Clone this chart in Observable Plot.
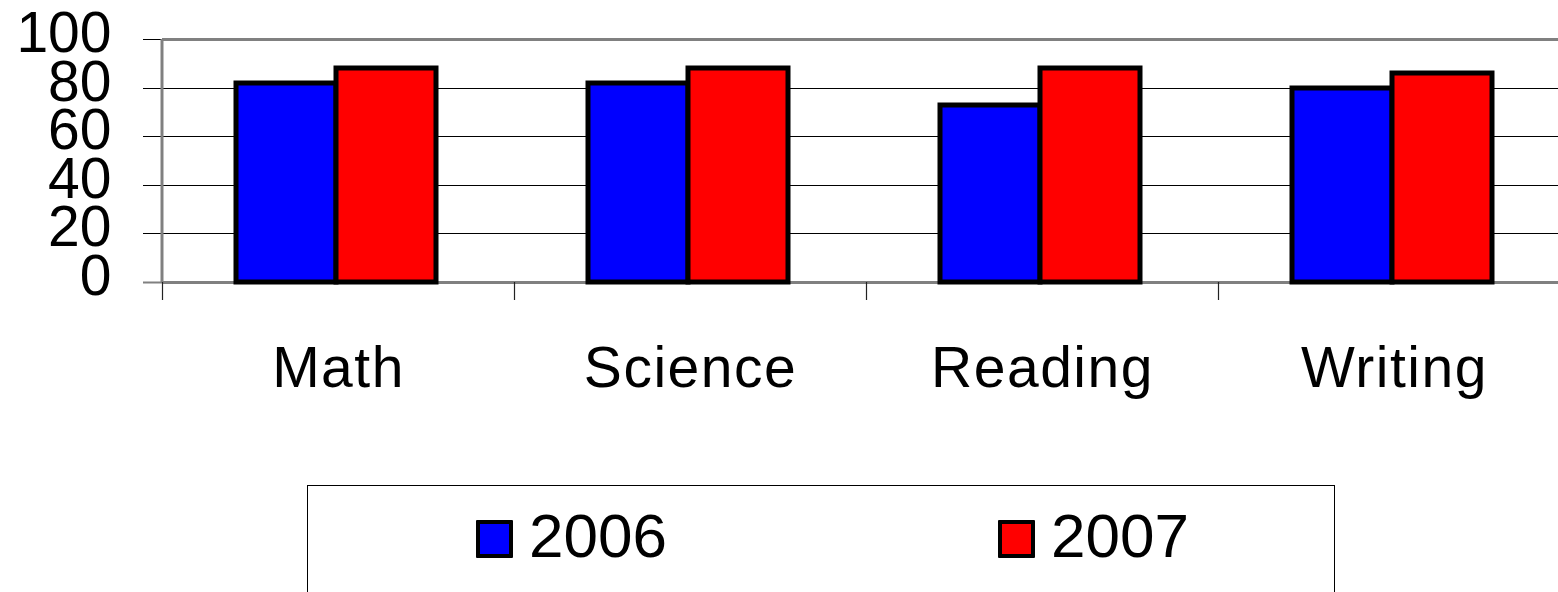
<!DOCTYPE html>
<html>
<head>
<meta charset="utf-8">
<script src="https://cdn.jsdelivr.net/npm/d3@7"></script>
<script src="https://cdn.jsdelivr.net/npm/@observablehq/plot@0.6"></script>
<style>
  html, body { margin: 0; padding: 0; background: #fff; overflow: hidden; width: 1558px; height: 592px; }
  body { font-family: "Liberation Sans", Arial, sans-serif; }
  #chart { width: 1558px; overflow: hidden; }
  #chart svg { display: block; max-width: none !important; }
  #chart [aria-label="fx-axis tick label"] text { letter-spacing: 1.5px; }
  #legend {
    position: relative; margin-left: 307px; width: 1028px; height: 140px;
    border: 1px solid #000; box-sizing: border-box; background: #fff;
  }
  .item { position: absolute; top: 19px; display: flex; align-items: center; font-size: 62px; line-height: 62px; color: #000; }
  .sw { width: 29px; height: 30px; border: 4px solid #000; border-radius: 1px; margin-right: 16px; margin-top: 6px; }
</style>
</head>
<body>
<div id="chart"></div>
<div id="legend"></div>
<script>
const subjects = ["Math", "Science", "Reading", "Writing"];
const years = ["2006", "2007"];
const values2006 = [82, 82, 73, 80];
const values2007 = [88, 88, 88, 86];
const yTicks = [0, 20, 40, 60, 80, 100];
const yearColors = ["#0000ff", "#ff0000"];

const data = [];
subjects.forEach((s, i) => {
  data.push({subject: s, year: years[0], value: values2006[i]});
  data.push({subject: s, year: years[1], value: values2007[i]});
});

const yMin = yTicks[0], yMax = yTicks[yTicks.length - 1];

const chart = Plot.plot({
  width: 1570,
  height: 485,
  marginLeft: 161,
  marginRight: 0,
  marginTop: 39,
  marginBottom: 203,
  style: {fontFamily: "'Liberation Sans', Arial, sans-serif", background: "#fff", overflow: "visible", maxWidth: "none"},
  fx: {domain: subjects, paddingInner: 0, paddingOuter: 0, axis: null},
  x: {domain: years, paddingInner: 0, paddingOuter: 0.745, align: 0.49, axis: null},
  y: {domain: [yMin, yMax], round: true, axis: null},
  color: {domain: years, range: yearColors},
  marks: [
    // gridlines, extended left of the frame to form the y ticks
    Plot.ruleY(yTicks.slice(1, -1), {stroke: "#000", strokeWidth: 1, insetLeft: -19}),
    Plot.ruleY([yMax], {stroke: "#000", strokeWidth: 1, insetLeft: -19}),
    Plot.ruleY([yMax, yMin], {stroke: "#808080", strokeWidth: 3}),
    Plot.ruleY([yMin], {stroke: "#808080", strokeWidth: 2, insetLeft: -19}),
    Plot.axisY(yTicks, {
      tickSize: 0, tickPadding: 51, fontSize: 57, dy: -6,
      tickFormat: d => String(d), label: null, color: "#000"
    }),
    Plot.axisFx({anchor: "bottom", tickSize: 0, tickPadding: 64, fontSize: 57, label: null, color: "#000"}),
    Plot.barY(data, {fx: "subject", x: "year", y: "value", fill: "year", stroke: "#000", strokeWidth: 5})
  ]
});
document.getElementById("chart").appendChild(chart);

// axis line and category boundary ticks, from Plot's own scales
const fx = chart.scale("fx");
const y = chart.scale("y");
const svg = d3.select(chart);
const g = svg.append("g");
const x0 = fx.apply(subjects[0]);
g.append("line")
  .attr("x1", x0).attr("x2", x0)
  .attr("y1", y.apply(yMax)).attr("y2", y.apply(yMin))
  .attr("stroke", "#808080").attr("stroke-width", 3);
subjects.forEach(s => {
  const xs = Math.round(fx.apply(s)) + 0.5;
  g.append("line")
    .attr("x1", xs).attr("x2", xs)
    .attr("y1", y.apply(yMin)).attr("y2", y.apply(yMin) + 18)
    .attr("stroke", "#222").attr("stroke-width", 1.2);
});

// legend
const legend = document.getElementById("legend");
const lefts = [168, 690];
years.forEach((yr, i) => {
  const item = document.createElement("div");
  item.className = "item";
  item.style.left = lefts[i] + "px";
  const sw = document.createElement("div");
  sw.className = "sw";
  sw.style.background = yearColors[i];
  const t = document.createElement("span");
  t.textContent = yr;
  item.appendChild(sw);
  item.appendChild(t);
  legend.appendChild(item);
});
</script>
</body>
</html>
